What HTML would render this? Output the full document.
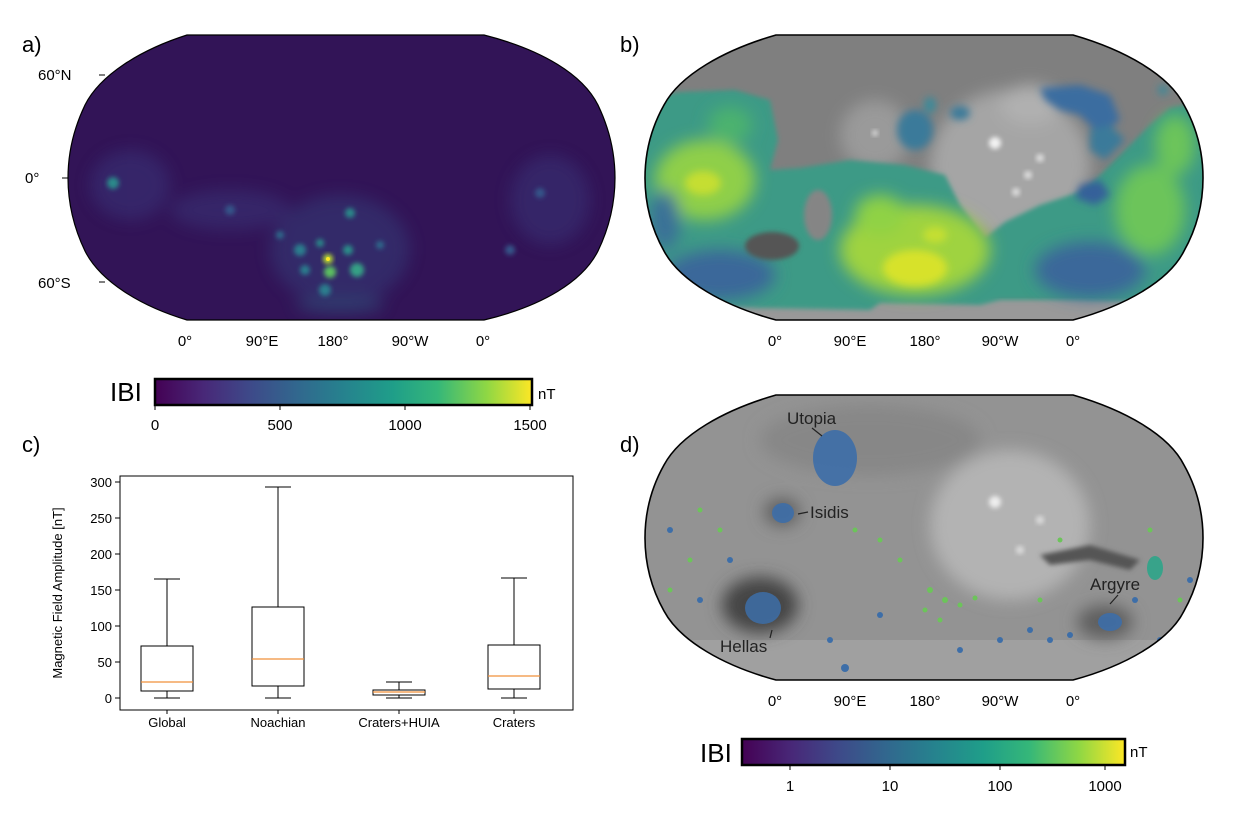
<!DOCTYPE html>
<html><head><meta charset="utf-8"><style>
html,body{margin:0;padding:0;background:#fff;}
svg{display:block;font-family:"Liberation Sans",sans-serif;}
</style></head><body>
<svg width="1234" height="813" viewBox="0 0 1234 813" xmlns="http://www.w3.org/2000/svg">
<defs>
<linearGradient id="vir" x1="0" x2="1" y1="0" y2="0">
<stop offset="0" stop-color="#440154"/><stop offset="0.13" stop-color="#482878"/><stop offset="0.25" stop-color="#3e4989"/><stop offset="0.38" stop-color="#31688e"/><stop offset="0.5" stop-color="#26828e"/><stop offset="0.63" stop-color="#1f9e89"/><stop offset="0.75" stop-color="#35b779"/><stop offset="0.88" stop-color="#8fd744"/><stop offset="1" stop-color="#fde725"/>
</linearGradient>
<filter id="bl" x="-30%" y="-30%" width="160%" height="160%"><feGaussianBlur stdDeviation="8"/></filter>
<filter id="bl4" x="-30%" y="-30%" width="160%" height="160%"><feGaussianBlur stdDeviation="4"/></filter>
<filter id="bl2" x="-30%" y="-30%" width="160%" height="160%"><feGaussianBlur stdDeviation="2.5"/></filter>
<path id="pa" d="M187,35 L484,35 C543,50 583,75 598,105 C610,130 615,155 615,178 C615,201 610,226 598,251 C583,281 543,306 484,320 L187,320 C140,306 100,281 85,251 C73,226 68,201 68,178 C68,155 73,130 85,105 C100,75 140,50 187,35Z"/>
<path id="pb" d="M776,35 L1073,35 C1125,50 1169,75 1184,105 C1198,130 1203,155 1203,178 C1203,201 1198,226 1184,251 C1169,281 1125,306 1073,320 L776,320 C724,306 680,281 664,251 C650,226 645,201 645,178 C645,155 650,130 664,105 C680,75 724,50 776,35Z"/>
<path id="pd" d="M776,395 L1073,395 C1125,410 1169,435 1184,465 C1198,490 1203,515 1203,538 C1203,561 1198,586 1184,611 C1169,641 1125,666 1073,680 L776,680 C724,666 680,641 664,611 C650,586 645,561 645,538 C645,515 650,490 664,465 C680,435 724,410 776,395Z"/>
<clipPath id="ca"><use href="#pa"/></clipPath>
<clipPath id="cb"><use href="#pb"/></clipPath>
<clipPath id="cd"><use href="#pd"/></clipPath>
</defs>

<!-- Panel a -->
<text x="22" y="52" font-size="22">a)</text>
<g clip-path="url(#ca)">
<rect x="60" y="30" width="560" height="300" fill="#321457"/>
<g filter="url(#bl)" opacity="0.45">
<ellipse cx="130" cy="185" rx="40" ry="35" fill="#3b3b80"/>
<ellipse cx="230" cy="210" rx="60" ry="20" fill="#3a3a7e"/>
<ellipse cx="340" cy="250" rx="70" ry="55" fill="#34447f"/>
<ellipse cx="550" cy="200" rx="40" ry="45" fill="#3a3a7e"/>
<ellipse cx="340" cy="305" rx="45" ry="8" fill="#2d6a8c"/>
</g>
<g filter="url(#bl2)">
<circle cx="113" cy="183" r="6" fill="#2a8a8a"/>
<circle cx="300" cy="250" r="6" fill="#2a7e8e"/>
<circle cx="320" cy="243" r="4" fill="#2a8a8a"/>
<circle cx="350" cy="213" r="5" fill="#2a8a8a"/>
<circle cx="348" cy="250" r="5" fill="#2a908a"/>
<circle cx="305" cy="270" r="5" fill="#2a7e8e"/>
<circle cx="357" cy="270" r="7" fill="#35a085"/>
<circle cx="330" cy="272" r="6" fill="#5cc060"/>
<circle cx="325" cy="290" r="6" fill="#2a7e8e"/>
<circle cx="280" cy="235" r="4" fill="#2e6a8c"/>
<circle cx="380" cy="245" r="4" fill="#2e6a8c"/>
<circle cx="230" cy="210" r="5" fill="#36568a"/>
<circle cx="540" cy="193" r="5" fill="#36568a"/>
<circle cx="510" cy="250" r="5" fill="#36568a"/>
</g>
<circle cx="328" cy="259" r="5" fill="#b8de30" filter="url(#bl2)"/>
<circle cx="328" cy="259" r="2" fill="#fde725"/>
</g>
<use href="#pa" fill="none" stroke="#000" stroke-width="1.2"/>
<g stroke="#000" stroke-width="1">
<line x1="99" y1="75" x2="105" y2="75"/><line x1="62" y1="178" x2="68" y2="178"/><line x1="99" y1="282" x2="105" y2="282"/>
</g>
<g font-size="15" fill="#000">
<text x="38" y="80">60°N</text><text x="25" y="183">0°</text><text x="38" y="288">60°S</text>
<text x="185" y="346" text-anchor="middle">0°</text><text x="262" y="346" text-anchor="middle">90°E</text><text x="333" y="346" text-anchor="middle">180°</text><text x="410" y="346" text-anchor="middle">90°W</text><text x="483" y="346" text-anchor="middle">0°</text>
</g>

<!-- Panel b -->
<text x="620" y="52" font-size="22">b)</text>
<g clip-path="url(#cb)">
<rect x="640" y="30" width="570" height="300" fill="#7f7f7f"/>
<rect x="640" y="298" width="570" height="30" fill="#999"/>
<g filter="url(#bl)">
<ellipse cx="1010" cy="165" rx="80" ry="75" fill="#a5a5a5"/>
<ellipse cx="1030" cy="105" rx="30" ry="20" fill="#b0b0b0"/>
<ellipse cx="875" cy="135" rx="35" ry="35" fill="#9a9a9a"/>
</g>
<circle cx="995" cy="143" r="6" fill="#f2f2f2" filter="url(#bl2)"/>
<circle cx="1040" cy="158" r="4" fill="#ddd" filter="url(#bl2)"/>
<circle cx="1028" cy="175" r="4" fill="#ddd" filter="url(#bl2)"/>
<circle cx="1016" cy="192" r="4" fill="#ddd" filter="url(#bl2)"/>
<circle cx="875" cy="133" r="3" fill="#ddd" filter="url(#bl2)"/>
<path filter="url(#bl2)" fill="#3c9a86" d="M640,100 L680,92 L735,90 L770,100 L778,140 L770,170 L800,168 L850,160 L905,165 L945,175 L960,205 L985,238 L1005,222 L1040,205 L1085,190 L1110,165 L1150,125 L1170,108 L1210,100 L1210,300 L1150,302 L1080,300 L1000,300 L980,305 L880,303 L870,310 L760,308 L700,305 L640,300 Z"/>
<g filter="url(#bl)">
<ellipse cx="705" cy="180" rx="50" ry="40" fill="#8fcf48"/>
<ellipse cx="915" cy="250" rx="75" ry="45" fill="#9fd33f"/>
<ellipse cx="880" cy="215" rx="25" ry="20" fill="#8fd244"/>
<ellipse cx="1150" cy="210" rx="35" ry="45" fill="#6cc45a"/>
<ellipse cx="1175" cy="145" rx="20" ry="30" fill="#6cc45a"/>
<ellipse cx="730" cy="125" rx="22" ry="18" fill="#4cb26e"/>
<ellipse cx="720" cy="275" rx="55" ry="25" fill="#3a679a"/>
<ellipse cx="1090" cy="270" rx="55" ry="28" fill="#3a679a"/>
<ellipse cx="665" cy="220" rx="15" ry="30" fill="#3a6f98"/>
</g>
<g filter="url(#bl4)">
<ellipse cx="915" cy="268" rx="32" ry="18" fill="#d7e22b"/>
<ellipse cx="703" cy="183" rx="18" ry="12" fill="#c5de33"/>
<ellipse cx="935" cy="235" rx="12" ry="8" fill="#c5df33"/>
<path d="M1040,88 L1080,85 L1110,95 L1120,120 L1100,135 L1080,115 L1060,110 L1045,100Z" fill="#3b6da0"/>
<path d="M1090,130 L1110,125 L1125,140 L1105,160 L1090,150Z" fill="#3a7a9a"/>
<path d="M1080,185 L1100,180 L1110,195 L1095,205 L1075,198Z" fill="#35609a"/>
<ellipse cx="915" cy="130" rx="18" ry="20" fill="#3a7a9a"/>
<ellipse cx="960" cy="113" rx="10" ry="7" fill="#3a7a9a"/>
<ellipse cx="930" cy="105" rx="6" ry="8" fill="#3a8a9a"/>
<ellipse cx="1163" cy="90" rx="5" ry="5" fill="#3a8a9a"/>
</g>
<ellipse cx="818" cy="215" rx="14" ry="25" fill="#858585" filter="url(#bl2)"/>
<ellipse cx="772" cy="246" rx="27" ry="14" fill="#555" filter="url(#bl2)"/>
</g>
<use href="#pb" fill="none" stroke="#000" stroke-width="1.6"/>
<g font-size="15">
<text x="775" y="346" text-anchor="middle">0°</text><text x="850" y="346" text-anchor="middle">90°E</text><text x="925" y="346" text-anchor="middle">180°</text><text x="1000" y="346" text-anchor="middle">90°W</text><text x="1073" y="346" text-anchor="middle">0°</text>
</g>

<!-- Colorbar 1 -->
<text x="110" y="401" font-size="26">IBI</text>
<rect x="155" y="379" width="377" height="26" fill="url(#vir)" stroke="#000" stroke-width="2.5"/>
<text x="538" y="399" font-size="15">nT</text>
<g font-size="15" text-anchor="middle">
<line x1="155" y1="405" x2="155" y2="410" stroke="#000"/><line x1="280" y1="405" x2="280" y2="410" stroke="#000"/><line x1="405" y1="405" x2="405" y2="410" stroke="#000"/><line x1="530" y1="405" x2="530" y2="410" stroke="#000"/>
<text x="155" y="430">0</text><text x="280" y="430">500</text><text x="405" y="430">1000</text><text x="530" y="430">1500</text>
</g>

<!-- Panel c -->
<text x="22" y="452" font-size="22">c)</text>
<rect x="120" y="476" width="453" height="234" fill="none" stroke="#000" stroke-width="1"/>
<g font-size="13" text-anchor="end">
<line x1="115" y1="698" x2="120" y2="698" stroke="#000"/><text x="112" y="703">0</text>
<line x1="115" y1="662" x2="120" y2="662" stroke="#000"/><text x="112" y="667">50</text>
<line x1="115" y1="626" x2="120" y2="626" stroke="#000"/><text x="112" y="631">100</text>
<line x1="115" y1="590" x2="120" y2="590" stroke="#000"/><text x="112" y="595">150</text>
<line x1="115" y1="554" x2="120" y2="554" stroke="#000"/><text x="112" y="559">200</text>
<line x1="115" y1="518" x2="120" y2="518" stroke="#000"/><text x="112" y="523">250</text>
<line x1="115" y1="482" x2="120" y2="482" stroke="#000"/><text x="112" y="487">300</text>
</g>
<text transform="translate(62,593) rotate(-90)" font-size="13" text-anchor="middle">Magnetic Field Amplitude [nT]</text>
<g stroke="#000" fill="none" stroke-width="1">
<line x1="167" y1="698" x2="167" y2="691"/><line x1="167" y1="646" x2="167" y2="579"/>
<line x1="154" y1="698" x2="180" y2="698"/><line x1="154" y1="579" x2="180" y2="579"/>
<rect x="141" y="646" width="52" height="45"/>
<line x1="278" y1="698" x2="278" y2="686"/><line x1="278" y1="607" x2="278" y2="487"/>
<line x1="265" y1="698" x2="291" y2="698"/><line x1="265" y1="487" x2="291" y2="487"/>
<rect x="252" y="607" width="52" height="79"/>
<line x1="399" y1="698" x2="399" y2="695"/><line x1="399" y1="690" x2="399" y2="682"/>
<line x1="386" y1="698" x2="412" y2="698"/><line x1="386" y1="682" x2="412" y2="682"/>
<rect x="373" y="690" width="52" height="5"/>
<line x1="514" y1="698" x2="514" y2="689"/><line x1="514" y1="645" x2="514" y2="578"/>
<line x1="501" y1="698" x2="527" y2="698"/><line x1="501" y1="578" x2="527" y2="578"/>
<rect x="488" y="645" width="52" height="44"/>
</g>
<g stroke="#f0913a" stroke-width="1.2">
<line x1="141" y1="682" x2="193" y2="682"/><line x1="252" y1="659" x2="304" y2="659"/><line x1="373" y1="692" x2="425" y2="692"/><line x1="488" y1="676" x2="540" y2="676"/>
</g>
<g font-size="13" text-anchor="middle">
<line x1="167" y1="710" x2="167" y2="714" stroke="#000"/><line x1="278" y1="710" x2="278" y2="714" stroke="#000"/><line x1="399" y1="710" x2="399" y2="714" stroke="#000"/><line x1="514" y1="710" x2="514" y2="714" stroke="#000"/>
<text x="167" y="727">Global</text><text x="278" y="727">Noachian</text><text x="399" y="727">Craters+HUIA</text><text x="514" y="727">Craters</text>
</g>

<!-- Panel d -->
<text x="620" y="452" font-size="22">d)</text>
<g clip-path="url(#cd)">
<rect x="640" y="390" width="570" height="300" fill="#939393"/>
<rect x="640" y="640" width="570" height="50" fill="#a0a0a0"/>
<g filter="url(#bl)">
<ellipse cx="1010" cy="525" rx="80" ry="75" fill="#b3b3b3"/>
<ellipse cx="870" cy="440" rx="110" ry="35" fill="#878787"/>
<ellipse cx="760" cy="605" rx="38" ry="28" fill="#444"/>
<ellipse cx="1105" cy="622" rx="28" ry="17" fill="#5e5e5e"/>
<ellipse cx="782" cy="512" rx="18" ry="14" fill="#606060"/>
</g>
<path d="M1040,555 L1090,545 L1140,560 L1130,570 L1090,560 L1050,565 Z" fill="#555" filter="url(#bl2)"/>
<circle cx="995" cy="502" r="6" fill="#eee" filter="url(#bl2)"/>
<circle cx="1040" cy="520" r="4" fill="#ddd" filter="url(#bl2)"/>
<circle cx="1020" cy="550" r="4" fill="#ddd" filter="url(#bl2)"/>
<ellipse cx="835" cy="458" rx="22" ry="28" fill="#3d6ea8" opacity="0.9"/>
<ellipse cx="783" cy="513" rx="11" ry="10" fill="#3d6ea8" opacity="0.9"/>
<ellipse cx="763" cy="608" rx="18" ry="16" fill="#3d6ea8" opacity="0.85"/>
<ellipse cx="1110" cy="622" rx="12" ry="9" fill="#3d6ea8" opacity="0.9"/>
<ellipse cx="1155" cy="568" rx="8" ry="12" fill="#2fa58a" opacity="0.9"/>
<g fill="#6cc45a">
<circle cx="930" cy="590" r="3"/><circle cx="945" cy="600" r="3"/><circle cx="960" cy="605" r="2.5"/><circle cx="925" cy="610" r="2.5"/><circle cx="940" cy="620" r="2.5"/><circle cx="975" cy="598" r="2.5"/><circle cx="880" cy="540" r="2.5"/><circle cx="700" cy="510" r="2.5"/><circle cx="720" cy="530" r="2.5"/><circle cx="690" cy="560" r="2.5"/><circle cx="855" cy="530" r="2.5"/><circle cx="900" cy="560" r="2.5"/><circle cx="1040" cy="600" r="2.5"/><circle cx="1060" cy="540" r="2.5"/><circle cx="1150" cy="530" r="2.5"/><circle cx="1180" cy="600" r="2.5"/><circle cx="670" cy="590" r="2.5"/>
</g>
<g fill="#3d6ea8">
<circle cx="1030" cy="630" r="3"/><circle cx="1050" cy="640" r="3"/><circle cx="1070" cy="635" r="3"/><circle cx="1000" cy="640" r="3"/><circle cx="830" cy="640" r="3"/><circle cx="845" cy="668" r="4"/><circle cx="730" cy="560" r="3"/><circle cx="700" cy="600" r="3"/><circle cx="1160" cy="640" r="3"/><circle cx="1135" cy="600" r="3"/><circle cx="960" cy="650" r="3"/><circle cx="880" cy="615" r="3"/><circle cx="1190" cy="580" r="3"/><circle cx="670" cy="530" r="3"/>
</g>
</g>
<use href="#pd" fill="none" stroke="#000" stroke-width="1.6"/>
<g font-size="17" fill="#222">
<text x="787" y="424">Utopia</text><text x="810" y="518">Isidis</text><text x="720" y="652">Hellas</text><text x="1090" y="590">Argyre</text>
</g>
<g stroke="#222" stroke-width="1.2" fill="none">
<line x1="812" y1="428" x2="822" y2="436"/><line x1="808" y1="512" x2="798" y2="514"/><line x1="770" y1="638" x2="772" y2="630"/><line x1="1118" y1="595" x2="1110" y2="604"/>
</g>

<!-- Colorbar 2 -->
<text x="700" y="762" font-size="26">IBI</text>
<rect x="742" y="739" width="383" height="26" fill="url(#vir)" stroke="#000" stroke-width="2.5"/>
<text x="1130" y="757" font-size="15">nT</text>
<g font-size="15" text-anchor="middle">
<line x1="790" y1="765" x2="790" y2="770" stroke="#000"/><line x1="890" y1="765" x2="890" y2="770" stroke="#000"/><line x1="1000" y1="765" x2="1000" y2="770" stroke="#000"/><line x1="1105" y1="765" x2="1105" y2="770" stroke="#000"/>
<text x="790" y="791">1</text><text x="890" y="791">10</text><text x="1000" y="791">100</text><text x="1105" y="791">1000</text>
</g>
<g font-size="15">
<text x="775" y="706" text-anchor="middle">0°</text><text x="850" y="706" text-anchor="middle">90°E</text><text x="925" y="706" text-anchor="middle">180°</text><text x="1000" y="706" text-anchor="middle">90°W</text><text x="1073" y="706" text-anchor="middle">0°</text>
</g>
</svg>
</body></html>
